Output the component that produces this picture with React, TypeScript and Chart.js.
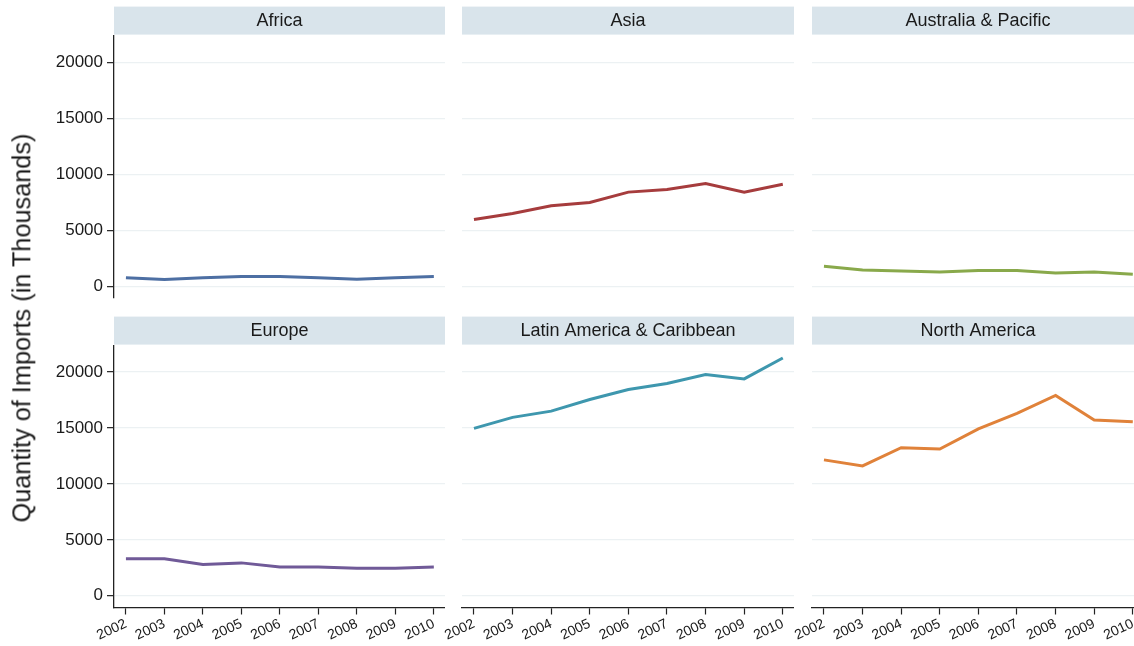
import React, { useEffect, useRef } from "react";
import { Chart, registerables } from "chart.js";

Chart.register(...registerables);

// ---- data ----
const YEARS = [2002, 2003, 2004, 2005, 2006, 2007, 2008, 2009, 2010];
const REGIONS = [
  "Africa",
  "Asia",
  "Australia & Pacific",
  "Europe",
  "Latin America & Caribbean",
  "North America",
];
const AFRICA = [750, 600, 750, 870, 870, 750, 630, 750, 870];
const ASIA = [5950, 6500, 7180, 7470, 8400, 8630, 9170, 8400, 9110];
const AUSTRALIA = [1790, 1460, 1370, 1280, 1400, 1400, 1190, 1280, 1070];
const EUROPE = [3300, 3300, 2790, 2940, 2580, 2580, 2460, 2460, 2580];
const LATAM = [14970, 15950, 16510, 17550, 18440, 18980, 19780, 19390, 21260];
const NAMERICA = [12150, 11610, 13240, 13120, 14930, 16300, 17910, 15710, 15560];
const SERIES = [AFRICA, ASIA, AUSTRALIA, EUROPE, LATAM, NAMERICA];
const Y_TICKS = [0, 5000, 10000, 15000, 20000];
const Y_TITLE = "Quantity of Imports (in Thousands)";

// ---- styles ----
const COLORS = ["#4d6fa3", "#a63c3d", "#89a94b", "#705a98", "#3e97ae", "#e0823a"];
const FONT = '"Liberation Sans", Arial, Helvetica, sans-serif';
const TEXT = "#1a1a1a";
const AXIS = "#222222";
const GRID = "#ecf1f3";
const STRIP = "#d9e4eb";

const PLOT_LEFT = [114, 462, 812];
const PLOT_W = [331, 332, 332];
const PAD_L = 30;

const stripPlugin = {
  id: "strip",
  beforeDraw(chart: any) {
    const { ctx, chartArea } = chart;
    ctx.save();
    ctx.fillStyle = STRIP;
    ctx.fillRect(chartArea.left, chartArea.top - 29, chartArea.right - chartArea.left, 28);
    ctx.restore();
  },
};

type PanelProps = { idx: number };

function Panel({ idx }: PanelProps) {
  const ref = useRef<HTMLCanvasElement>(null);
  const row = Math.floor(idx / 3);
  const col = idx % 3;
  const isLeft = col === 0;
  const isBottom = row === 1;
  const canvasLeft = isLeft ? 0 : PLOT_LEFT[col] - PAD_L;
  const padLeft = isLeft ? 0 : PAD_L;
  const width = isLeft ? PLOT_LEFT[0] + PLOT_W[0] : PAD_L + PLOT_W[col];
  const top = row === 0 ? 0 : 310;
  const height = row === 0 ? 318 : 336;
  const padBottom = row === 0 ? 20 : 0;

  useEffect(() => {
    if (!ref.current) return;
    const values = SERIES[idx];
    const chart = new Chart(ref.current, {
      type: "line",
      data: {
        datasets: [
          {
            data: YEARS.map((y, i) => ({ x: y, y: values[i] })),
            borderColor: COLORS[idx],
            backgroundColor: COLORS[idx],
            borderWidth: 3,
            pointRadius: 0,
            tension: 0,
            fill: false,
          },
        ],
      },
      options: {
        animation: false,
        responsive: false,
        devicePixelRatio: 1,
        layout: { padding: { left: padLeft, top: 6, right: 0, bottom: padBottom } },
        plugins: {
          legend: { display: false },
          tooltip: { enabled: false },
          title: {
            display: true,
            text: REGIONS[idx],
            fullSize: false,
            color: TEXT,
            font: { size: 18, family: FONT, weight: "normal", lineHeight: 1.2 },
            padding: { top: 4, bottom: 4 },
          },
        },
        scales: {
          x: {
            type: "linear",
            min: 2001.69,
            max: 2010.29,
            display: isBottom,
            afterBuildTicks: (s: any) => {
              s.ticks = YEARS.map((v) => ({ value: v }));
            },
            afterFit: (s: any) => {
              s.height = isBottom ? 38.5 : 0;
            },
            grid: {
              drawOnChartArea: false,
              drawTicks: true,
              tickLength: 7,
              tickColor: AXIS,
              tickWidth: 1.2,
            },
            border: { display: true, color: AXIS, width: 1.3 },
            ticks: {
              autoSkip: false,
              minRotation: 25,
              maxRotation: 25,
              padding: 1,
              color: TEXT,
              font: { size: 14, family: FONT },
              callback: (v: any) => String(v),
            },
          },
          y: {
            type: "linear",
            min: -1050,
            max: 22370,
            afterBuildTicks: (s: any) => {
              s.ticks = Y_TICKS.map((v) => ({ value: v }));
            },
            afterFit: (s: any) => {
              s.width = isLeft ? PLOT_LEFT[0] : 0;
            },
            grid: {
              color: GRID,
              lineWidth: 1.3,
              drawTicks: isLeft,
              tickLength: 7,
              tickColor: AXIS,
              tickWidth: 1.2,
            },
            border: { display: isLeft, color: AXIS, width: 1.3 },
            ticks: {
              display: isLeft,
              padding: 4,
              color: TEXT,
              font: { size: 17, family: FONT },
              callback: (v: any) => String(v),
            },
          },
        },
      },
      plugins: [stripPlugin],
    } as any);
    return () => chart.destroy();
  }, [idx]);

  return (
    <canvas
      ref={ref}
      width={width}
      height={height}
      style={{ position: "absolute", left: canvasLeft, top, width, height, display: "block" }}
    />
  );
}

export default function App() {
  return (
    <div
      style={{
        position: "absolute",
        left: 0,
        top: 0,
        width: 1134,
        height: 646,
        overflow: "hidden",
        background: "#ffffff",
      }}
    >
      {REGIONS.map((_, i) => (
        <Panel key={i} idx={i} />
      ))}
      <div
        style={{
          position: "absolute",
          left: 22,
          top: 328,
          transform: "translate(-50%, -50%) rotate(-90deg)",
          whiteSpace: "nowrap",
          fontFamily: FONT,
          fontSize: 25.3,
          lineHeight: 1,
          color: TEXT,
        }}
      >
        {Y_TITLE}
      </div>
    </div>
  );
}
